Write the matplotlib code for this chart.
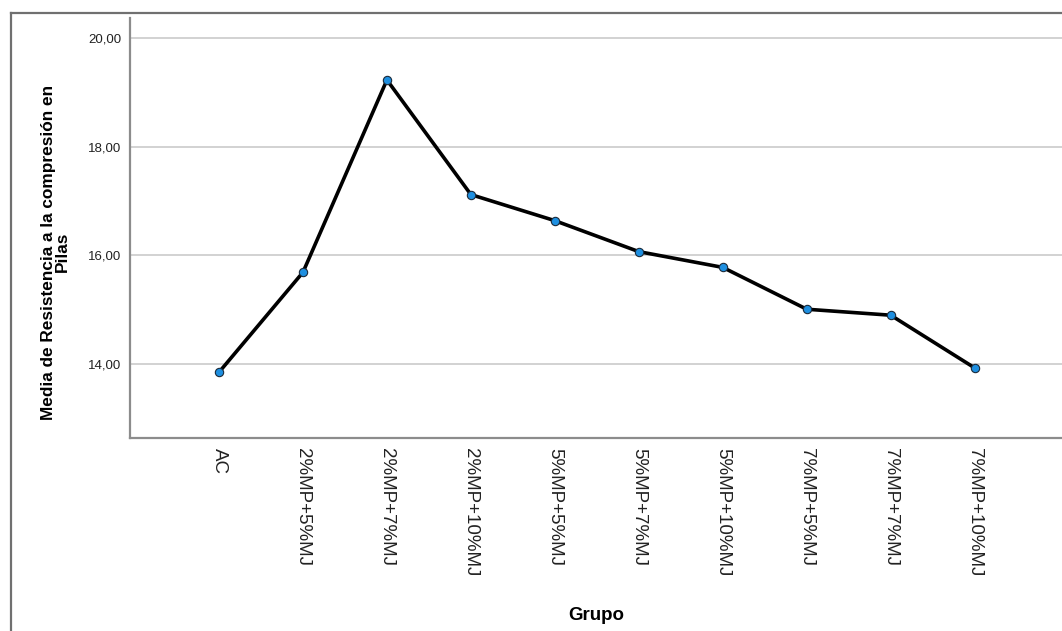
import matplotlib
matplotlib.use("Agg")
import matplotlib.pyplot as plt
from matplotlib.lines import Line2D

grupos = ["AC", "2%MP+5%MJ", "2%MP+7%MJ", "2%MP+10%MJ", "5%MP+5%MJ",
          "5%MP+7%MJ", "5%MP+10%MJ", "7%MP+5%MJ", "7%MP+7%MJ", "7%MP+10%MJ"]
medias = [13.85, 15.69, 19.23, 17.12, 16.64, 16.07, 15.78, 15.01, 14.90, 13.93]
yticks = [14, 16, 18, 20]
ytick_labels = ["14,00", "16,00", "18,00", "20,00"]

plt.rcParams['font.family'] = ['Liberation Sans', 'DejaVu Sans']

W, H = 1062, 631
fig = plt.figure(figsize=(W / 100, H / 100), dpi=100)
ax = fig.add_axes([130 / W, 1 - 438 / H, 1 - 130 / W, (438 - 18) / H])

x = list(range(len(grupos)))
ax.plot(x, medias, color="black", lw=2.6, zorder=3,
        marker="o", markersize=6, markerfacecolor="#1e8fe0",
        markeredgecolor="#1a2a3a", markeredgewidth=0.8)

ax.set_xlim(-1.06, 10.04)
ax.set_ylim(12.64, 20.37)
ax.set_yticks(yticks)
ax.set_yticklabels(ytick_labels, fontsize=9.5, color="#222222")
ax.set_xticks(x)
ax.set_xticklabels(grupos, rotation=-90, fontsize=13.5, color="#222222",
                   va="top", ha="center")
ax.tick_params(axis="both", length=0)
ax.tick_params(axis="x", pad=7)
ax.tick_params(axis="y", pad=6)
ax.yaxis.grid(True, color="#d2d2d2", lw=1.4, zorder=0)
ax.set_axisbelow(True)

for s in ["top", "right"]:
    ax.spines[s].set_visible(False)
for s in ["left", "bottom"]:
    ax.spines[s].set_color("#8c8c8c")
    ax.spines[s].set_linewidth(1.6)

ax.set_ylabel("Media de Resistencia a la compresión en\nPilas",
              fontsize=12.4, fontweight="bold", linespacing=0.95)
ax.yaxis.set_label_coords(-0.064, 0.443)
ax.set_xlabel("Grupo", fontsize=13.5, fontweight="bold", labelpad=22)

# outer frame
fx = 10.5 / W
fy = 1 - 12.5 / H
fig.add_artist(Line2D([fx, fx], [0, fy], transform=fig.transFigure,
                      color="#707070", lw=1.6))
fig.add_artist(Line2D([fx, 1], [fy, fy], transform=fig.transFigure,
                      color="#707070", lw=1.6))

fig.savefig("out.png", dpi=100)
